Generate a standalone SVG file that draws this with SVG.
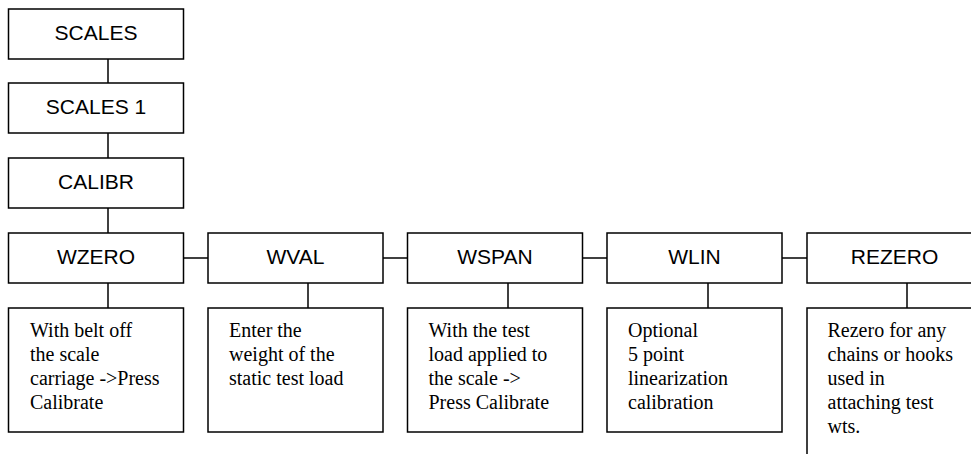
<svg xmlns="http://www.w3.org/2000/svg" width="971" height="454" viewBox="0 0 971 454">
<style>
.box{fill:#fff;stroke:#000;stroke-width:1.5}
.lbl{font-family:"Liberation Sans",Arial,sans-serif;font-size:21px;fill:#000;text-anchor:middle}
.desc{font-family:"Liberation Serif","Times New Roman",serif;font-size:20px;fill:#000}
.conn line{stroke:#000;stroke-width:1.5}
</style>
<rect width="971" height="454" fill="#fff"/>
<g id="connectors" class="conn">
<line x1="108" y1="59" x2="108" y2="83"/>
<line x1="108" y1="133" x2="108" y2="158"/>
<line x1="108" y1="208" x2="108" y2="233"/>
<line x1="108" y1="283" x2="108" y2="308"/>
<line x1="308" y1="283" x2="308" y2="308"/>
<line x1="508" y1="283" x2="508" y2="308"/>
<line x1="708" y1="283" x2="708" y2="308"/>
<line x1="907" y1="283" x2="907" y2="308"/>
<line x1="183.5" y1="258" x2="208" y2="258"/>
<line x1="383" y1="258" x2="407.5" y2="258"/>
<line x1="583" y1="258" x2="607" y2="258"/>
<line x1="782" y1="258" x2="807" y2="258"/>
</g>
<g id="scales"><rect class="box" x="8.5" y="9" width="175" height="50"/><text class="lbl" x="96" y="39.5">SCALES</text></g>
<g id="scales1"><rect class="box" x="8.5" y="83" width="175" height="50"/><text class="lbl" x="96" y="113.5">SCALES 1</text></g>
<g id="calibr"><rect class="box" x="8.5" y="158" width="175" height="50"/><text class="lbl" x="96" y="188.5">CALIBR</text></g>
<g id="wzero"><rect class="box" x="8.5" y="233" width="175" height="50"/><text class="lbl" x="96" y="263.5">WZERO</text></g>
<g id="wval"><rect class="box" x="208" y="233" width="175" height="50"/><text class="lbl" x="295.5" y="263.5">WVAL</text></g>
<g id="wspan"><rect class="box" x="407.5" y="233" width="175" height="50"/><text class="lbl" x="495" y="263.5">WSPAN</text></g>
<g id="wlin"><rect class="box" x="607" y="233" width="175" height="50"/><text class="lbl" x="694.5" y="263.5">WLIN</text></g>
<g id="rezero"><rect class="box" x="807" y="233" width="175" height="50"/><text class="lbl" x="894.5" y="263.5">REZERO</text></g>
<g id="wzero-desc"><rect class="box" x="8.5" y="308" width="175" height="124"/>
<text class="desc"><tspan x="30" y="337">With belt off</tspan><tspan x="30" y="361">the scale</tspan><tspan x="30" y="385">carriage -&gt;Press</tspan><tspan x="30" y="409">Calibrate</tspan></text></g>
<g id="wval-desc"><rect class="box" x="208" y="308" width="175" height="124"/>
<text class="desc"><tspan x="229" y="337">Enter the</tspan><tspan x="229" y="361">weight of the</tspan><tspan x="229" y="385">static test load</tspan></text></g>
<g id="wspan-desc"><rect class="box" x="407.5" y="308" width="175" height="124"/>
<text class="desc"><tspan x="428.5" y="337">With the test</tspan><tspan x="428.5" y="361">load applied to</tspan><tspan x="428.5" y="385">the scale -&gt;</tspan><tspan x="428.5" y="409">Press Calibrate</tspan></text></g>
<g id="wlin-desc"><rect class="box" x="607" y="308" width="175" height="124"/>
<text class="desc"><tspan x="628" y="337">Optional</tspan><tspan x="628" y="361">5 point</tspan><tspan x="628" y="385">linearization</tspan><tspan x="628" y="409">calibration</tspan></text></g>
<g id="rezero-desc"><rect class="box" x="807" y="308" width="175" height="200"/>
<text class="desc"><tspan x="827.5" y="337">Rezero for any</tspan><tspan x="827.5" y="361">chains or hooks</tspan><tspan x="827.5" y="385">used in</tspan><tspan x="827.5" y="409">attaching test</tspan><tspan x="827.5" y="433">wts.</tspan></text></g>
</svg>
